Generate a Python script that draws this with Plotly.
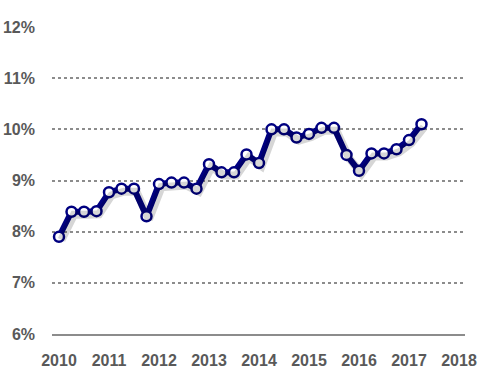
import plotly.graph_objects as go

years = [2010 + i * 0.25 for i in range(30)]
rates = [7.90, 8.39, 8.39, 8.40, 8.77, 8.84, 8.84, 8.30,
         8.93, 8.96, 8.96, 8.84, 9.32, 9.16, 9.16, 9.51,
         9.34, 10.00, 10.00, 9.84, 9.91, 10.03, 10.03, 9.50,
         9.19, 9.53, 9.53, 9.61, 9.79, 10.10]
x_ticks = list(range(2010, 2019))
y_ticks = [6, 7, 8, 9, 10, 11, 12]
y_labels = [f"{v}%" for v in y_ticks]

X_RANGE = [2009.86, 2018.12]
Y_RANGE = [6, 12]
# soft drop shadow: same series drawn on overlay axes nudged a few pixels
dx, dy = 0.05, 0.06

fig = go.Figure()
fig.add_trace(go.Scatter(
    x=years, y=rates, mode="lines", xaxis="x2", yaxis="y2",
    line=dict(color="rgba(0,0,0,0.16)", width=8),
    hoverinfo="skip", showlegend=False,
))
fig.add_trace(go.Scatter(
    x=years, y=rates, mode="lines+markers",
    line=dict(color="#000080", width=6),
    marker=dict(size=10, color="white", line=dict(color="#000080", width=2.5)),
    hoverinfo="skip", showlegend=False,
))

font = dict(family="Liberation Sans, Arial, sans-serif",
            size=16, color="#595959", weight="bold")

fig.update_layout(
    width=489, height=373,
    margin=dict(l=52, r=24, t=27, b=39),
    paper_bgcolor="white", plot_bgcolor="white",
    xaxis=dict(
        range=X_RANGE, tickvals=x_ticks, ticktext=[str(v) for v in x_ticks],
        showgrid=False, zeroline=False, showline=True, linecolor="#8c8c8c", linewidth=2,
        ticks="", tickfont=font, ticklabelstandoff=11, automargin=False,
    ),
    yaxis=dict(
        range=Y_RANGE, tickvals=y_ticks, ticktext=y_labels,
        showgrid=True, gridcolor="#8c8c8c", griddash="dot", gridwidth=2,
        zeroline=False, showline=False, ticks="", tickfont=font, ticklabelstandoff=16,
        automargin=False,
    ),
    xaxis2=dict(range=[X_RANGE[0] - dx, X_RANGE[1] - dx], overlaying="x", visible=False),
    yaxis2=dict(range=[Y_RANGE[0] + dy, Y_RANGE[1] + dy], overlaying="y", visible=False),
)

fig.write_html("out.html", config={"displayModeBar": False},
               post_script="document.body.style.margin='0';")
